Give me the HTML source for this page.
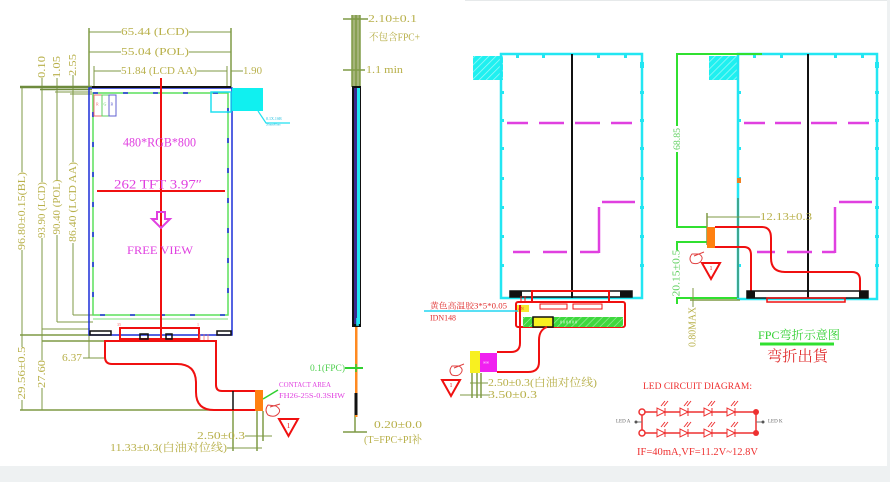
<!DOCTYPE html>
<html><head><meta charset="utf-8">
<style>
html,body{margin:0;padding:0;background:#fff;}
svg{display:block;}
text{font-family:"Liberation Serif","Noto Serif CJK SC",serif;}
</style></head><body>
<svg width="890" height="482" viewBox="0 0 890 482" xmlns="http://www.w3.org/2000/svg">
<defs>
<pattern id="hatch" width="5" height="5" patternUnits="userSpaceOnUse" patternTransform="rotate(45)">
<rect width="5" height="5" fill="#1ff0f0"/><line x1="0" y1="0" x2="0" y2="5" stroke="#9ff8f8" stroke-width="1.5"/>
</pattern>
<pattern id="ghatch" width="5" height="5" patternUnits="userSpaceOnUse" patternTransform="rotate(45)">
<rect width="5" height="5" fill="#3ed83e"/><line x1="0" y1="0" x2="0" y2="5" stroke="#a8f0a8" stroke-width="1.2"/>
</pattern>
</defs>
<rect width="890" height="482" fill="#fff"/>
<rect x="0" y="466" width="890" height="16" fill="#eef1f2"/>
<rect x="887" y="0" width="3" height="466" fill="#eef1f2"/>
<line x1="465" y1="0.5" x2="887" y2="0.5" stroke="#e6e9ea" stroke-width="1"/>

<!-- ================= LEFT DRAWING ================= -->
<g stroke="#7f9a45" stroke-width="1" fill="none">
  <line x1="89" y1="32" x2="121" y2="32"/><line x1="189" y1="32" x2="231" y2="32"/>
  <line x1="89" y1="52" x2="121" y2="52"/><line x1="189" y1="52" x2="231" y2="52"/>
  <line x1="94" y1="71" x2="121" y2="71"/><line x1="197" y1="71" x2="227" y2="71"/>
  <line x1="231" y1="71" x2="243" y2="71"/>
  <line x1="89" y1="28" x2="89" y2="88" stroke-width="1.5"/>
  <line x1="231" y1="28" x2="231" y2="88" stroke-width="1.5"/>
  <line x1="94" y1="66" x2="94" y2="88"/>
  <line x1="227" y1="66" x2="227" y2="88"/>
  <!-- left verticals -->
  <line x1="22" y1="87" x2="22" y2="172"/><line x1="22" y1="250" x2="22" y2="347"/><line x1="22" y1="400" x2="22" y2="410"/>
  <line x1="42" y1="78" x2="42" y2="182"/><line x1="42" y1="238" x2="42" y2="360"/><line x1="42" y1="388" x2="42" y2="410"/>
  <line x1="57" y1="78" x2="57" y2="180"/><line x1="57" y1="235" x2="57" y2="322"/>
  <line x1="73" y1="75" x2="73" y2="162"/><line x1="73" y1="243" x2="73" y2="315"/>
  <line x1="20" y1="87" x2="92" y2="87" stroke="#6e8b3d" stroke-width="2.5"/>
  <line x1="40" y1="89.5" x2="92" y2="89.5" stroke="#6e8b3d" stroke-width="1.5"/>
  <line x1="55" y1="92" x2="92" y2="92"/>
  <line x1="70" y1="94" x2="92" y2="94"/>
  <line x1="73" y1="315" x2="93" y2="315"/>
  <line x1="57" y1="322" x2="93" y2="322"/>
  <line x1="42" y1="329" x2="90" y2="329"/>
  <line x1="20" y1="335" x2="90" y2="335" stroke-width="1.5"/>
  <line x1="42" y1="341" x2="105" y2="341" stroke-width="1.5"/>
  <line x1="20" y1="410" x2="256" y2="410" stroke-width="1.5"/>
  <line x1="83" y1="358" x2="105" y2="358"/>
  <line x1="89" y1="335" x2="89" y2="358"/>
  <line x1="245" y1="436" x2="272" y2="436"/>
  <line x1="227" y1="448" x2="262" y2="448"/>
  <line x1="233" y1="410" x2="233" y2="451" stroke-width="1.5"/>
  <line x1="257" y1="411" x2="257" y2="451" stroke-width="1.5"/>
  <line x1="263" y1="411" x2="263" y2="441" stroke-width="1.5"/>
</g>
<g fill="#b8b04a" font-size="11" dominant-baseline="central" lengthAdjust="spacingAndGlyphs">
  <text x="121" y="32" textLength="68" lengthAdjust="spacingAndGlyphs">65.44 (LCD)</text>
  <text x="121" y="52" textLength="68" lengthAdjust="spacingAndGlyphs">55.04 (POL)</text>
  <text x="121" y="71" textLength="76" lengthAdjust="spacingAndGlyphs">51.84 (LCD AA)</text>
  <text x="243" y="71" textLength="19" lengthAdjust="spacingAndGlyphs">1.90</text>
  <text x="42" y="67" transform="rotate(-90 42 67)" text-anchor="middle" textLength="22" lengthAdjust="spacingAndGlyphs">0.10</text>
  <text x="57" y="67" transform="rotate(-90 57 67)" text-anchor="middle" textLength="22" lengthAdjust="spacingAndGlyphs">1.05</text>
  <text x="73" y="65" transform="rotate(-90 73 65)" text-anchor="middle" textLength="22" lengthAdjust="spacingAndGlyphs">2.55</text>
  <text x="22" y="211" transform="rotate(-90 22 211)" text-anchor="middle" textLength="78" lengthAdjust="spacingAndGlyphs">96.80±0.15(BL)</text>
  <text x="42" y="210" transform="rotate(-90 42 210)" text-anchor="middle" textLength="56" lengthAdjust="spacingAndGlyphs">93.90 (LCD)</text>
  <text x="57" y="207" transform="rotate(-90 57 207)" text-anchor="middle" textLength="55" lengthAdjust="spacingAndGlyphs">90.40 (POL)</text>
  <text x="73" y="202" transform="rotate(-90 73 202)" text-anchor="middle" textLength="80" lengthAdjust="spacingAndGlyphs">86.40 (LCD AA)</text>
  <text x="22" y="373" transform="rotate(-90 22 373)" text-anchor="middle" textLength="53" lengthAdjust="spacingAndGlyphs">29.56±0.5</text>
  <text x="42" y="374" transform="rotate(-90 42 374)" text-anchor="middle" textLength="28" lengthAdjust="spacingAndGlyphs">27.60</text>
  <text x="62" y="358" textLength="20" lengthAdjust="spacingAndGlyphs">6.37</text>
  <text x="197" y="436" textLength="48" lengthAdjust="spacingAndGlyphs">2.50±0.3</text>
  <text x="110" y="448" textLength="117" lengthAdjust="spacingAndGlyphs">11.33±0.3(白油对位线)</text>
</g>

<!-- LCD body -->
<rect x="89" y="88" width="143" height="247" fill="none" stroke="#1c2fd8" stroke-width="1.5"/>
<rect x="93" y="93" width="135" height="222" fill="none" stroke="#5ce05c" stroke-width="1.5"/>
<rect x="93" y="93" width="135" height="222" fill="none" stroke="#1c2fd8" stroke-width="1.6" stroke-dasharray="5 25"/>
<line x1="93" y1="319" x2="228" y2="319" stroke="#7ee07e" stroke-width="1"/>
<line x1="92" y1="87" x2="231" y2="87" stroke="#111" stroke-width="2"/>
<rect x="94" y="95" width="8" height="21" fill="none" stroke="#f07070" stroke-width="1"/>
<rect x="102" y="95" width="7" height="21" fill="none" stroke="#60d060" stroke-width="1"/>
<rect x="109" y="95" width="7" height="21" fill="none" stroke="#6060d0" stroke-width="1"/>
<g font-size="4" dominant-baseline="central"><text x="96" y="104" fill="#f07070">R</text><text x="103.5" y="104" fill="#60d060">G</text><text x="110.5" y="104" fill="#6060d0">B</text></g>
<rect x="211" y="92" width="20" height="20" fill="none" stroke="#20e0f0" stroke-width="1.5"/>
<rect x="232" y="88" width="31" height="23" fill="#10f0f0"/>
<polyline points="258,111 266,123 290,123" fill="none" stroke="#20e0f0" stroke-width="1.2"/>
<text x="266" y="120" font-size="4" fill="#20c0e0">0.1X.1SR</text>
<text x="266" y="125.5" font-size="3" fill="#20c0e0">20mmFilms</text>
<line x1="161" y1="78" x2="161" y2="340" stroke="#f01010" stroke-width="2"/>
<line x1="97" y1="191" x2="225" y2="191" stroke="#f01010" stroke-width="2"/>
<g fill="#e040e0" dominant-baseline="central">
  <text x="123" y="142" font-size="13" textLength="73" lengthAdjust="spacingAndGlyphs">480*RGB*800</text>
  <text x="114" y="184" font-size="13" textLength="88" lengthAdjust="spacingAndGlyphs">262 TFT  3.97″</text>
  <text x="127" y="250" font-size="12" textLength="66" lengthAdjust="spacingAndGlyphs">FREE  VIEW</text>
</g>
<polygon points="157,212 165,212 165,219 170,219 161,228 152,219 157,219" fill="none" stroke="#e040e0" stroke-width="2"/>

<!-- LCD bottom & FPC -->
<rect x="90" y="331" width="21" height="4" fill="none" stroke="#111" stroke-width="1.5"/>
<rect x="217" y="331" width="14" height="4" fill="none" stroke="#111" stroke-width="1.5"/>
<rect x="120" y="328" width="79" height="11" fill="none" stroke="#f01010" stroke-width="2"/>
<rect x="140" y="334" width="8" height="5" fill="none" stroke="#111" stroke-width="1.5"/>
<rect x="166" y="334" width="6" height="5" fill="none" stroke="#111" stroke-width="1.5"/>
<text x="117" y="326" font-size="4" fill="#f07070">35</text><text x="197" y="326" font-size="4" fill="#f07070">1</text>
<path d="M200,334 V340 M204,334 V340 M208,334 V340" stroke="#f07070" stroke-width="0.8"/>
<path d="M255,410 H214 Q196,410 196,392 V383 Q196,364 177,364 H112 Q105,364 105,357 V341 H216 V385 Q216,391 222,391 H255" fill="none" stroke="#f01010" stroke-width="2"/>
<line x1="233" y1="391" x2="233" y2="410" stroke="#111" stroke-width="1.5"/>
<rect x="255" y="390" width="8" height="21" fill="#ff8010"/>
<line x1="263" y1="399" x2="278" y2="390" stroke="#30d030" stroke-width="1.5"/>
<g fill="#e040e0" font-size="7" dominant-baseline="central">
  <text x="279" y="385" textLength="52" lengthAdjust="spacingAndGlyphs">CONTACT AREA</text>
  <text x="279" y="396" textLength="66" lengthAdjust="spacingAndGlyphs">FH26-25S-0.3SHW</text>
</g>
<g fill="none" stroke="#e04040" stroke-width="1">
  <path d="M268,405 Q264,410 268,415 Q274,418 278,414 Q282,410 276,406 Z M270,407 L280,404"/>
</g>
<polygon points="279,419 298,419 288.5,436" fill="none" stroke="#f01010" stroke-width="2"/>
<text x="288.5" y="426" font-size="7" fill="#f01010" text-anchor="middle" dominant-baseline="central">1</text>

<!-- ================= SIDE VIEW ================= -->
<rect x="352" y="15" width="8" height="72" fill="#a5b47a"/>
<g stroke="#7f9a45" stroke-width="1.5" fill="none">
  <line x1="352" y1="15" x2="352" y2="87"/><line x1="356" y1="15" x2="356" y2="87"/><line x1="360" y1="15" x2="360" y2="87"/>
  <line x1="343" y1="19" x2="368" y2="19"/>
  <line x1="343" y1="70" x2="365" y2="70"/>
  <line x1="355" y1="415" x2="355" y2="432"/>
  <line x1="343" y1="432" x2="367" y2="432"/>
</g>
<rect x="352" y="86" width="9" height="241" fill="#111"/>
<rect x="354" y="88" width="3" height="236" fill="#3a2a90"/>
<rect x="357" y="88" width="3" height="236" fill="#22e6f2"/>
<path d="M357,318 V325 H359" fill="none" stroke="#22e6f2" stroke-width="1.5"/>
<rect x="355" y="327" width="2.5" height="90" fill="#ff8a20"/>
<rect x="354.5" y="393" width="3" height="22" fill="#111"/>
<line x1="345" y1="368" x2="363" y2="368" stroke="#30d030" stroke-width="2"/>
<line x1="356" y1="364" x2="356" y2="372" stroke="#30d030" stroke-width="1.5"/>
<g font-size="11" dominant-baseline="central">
  <text x="368" y="19" fill="#b8b04a" textLength="49" lengthAdjust="spacingAndGlyphs">2.10±0.1</text>
  <text x="369" y="38" fill="#b8b04a" font-size="10" textLength="51" lengthAdjust="spacingAndGlyphs">不包含FPC+</text>
  <text x="366" y="70" fill="#b8b04a" textLength="37" lengthAdjust="spacingAndGlyphs">1.1 min</text>
  <text x="310" y="368" fill="#50d050" font-size="9" textLength="35" lengthAdjust="spacingAndGlyphs">0.1(FPC)</text>
  <text x="374" y="425" fill="#b8b04a" textLength="48" lengthAdjust="spacingAndGlyphs">0.20±0.0</text>
  <text x="364" y="440" fill="#b8b04a" textLength="58" lengthAdjust="spacingAndGlyphs">(T=FPC+PI补</text>
</g>

<!-- ================= RIGHT-MIDDLE DRAWING ================= -->
<rect x="473" y="56" width="30" height="24" fill="url(#hatch)"/>
<rect x="501" y="54" width="141" height="244" fill="none" stroke="#22e6f2" stroke-width="2.5"/>
<g fill="#22e6f2">
  <rect x="516" y="54" width="3" height="4"/><rect x="542" y="54" width="3" height="4"/><rect x="597" y="54" width="3" height="4"/><rect x="624" y="54" width="3" height="4"/>
  <rect x="500" y="91" width="4" height="3"/><rect x="500" y="119" width="4" height="3"/><rect x="500" y="147" width="4" height="3"/><rect x="500" y="177" width="4" height="3"/><rect x="500" y="206" width="4" height="3"/><rect x="500" y="235" width="4" height="3"/><rect x="500" y="264" width="4" height="3"/>
  <rect x="640" y="62" width="4" height="6"/><rect x="640" y="91" width="4" height="3"/><rect x="640" y="119" width="4" height="3"/><rect x="640" y="147" width="4" height="3"/><rect x="640" y="177" width="4" height="3"/><rect x="640" y="206" width="4" height="3"/><rect x="640" y="235" width="4" height="3"/><rect x="640" y="264" width="4" height="3"/>
</g>
<line x1="572" y1="54" x2="572" y2="298" stroke="#111" stroke-width="2"/>
<g stroke="#e040e0" stroke-width="2.5">
  <line x1="507" y1="123" x2="528" y2="123"/><line x1="539" y1="123" x2="564" y2="123"/><line x1="575" y1="123" x2="600" y2="123"/><line x1="611" y1="123" x2="632" y2="123"/>
  <line x1="602" y1="202" x2="635" y2="202"/>
  <line x1="599" y1="207" x2="599" y2="253"/>
  <line x1="513" y1="252" x2="530" y2="252"/><line x1="543" y1="252" x2="567" y2="252"/><line x1="580" y1="252" x2="599" y2="252"/>
</g>
<rect x="510" y="291" width="122" height="6" fill="none" stroke="#111" stroke-width="1.5"/>
<rect x="510" y="291" width="12" height="6" fill="#111"/><rect x="620" y="291" width="12" height="6" fill="#111"/>
<rect x="532" y="291" width="77" height="11" fill="none" stroke="#f01010" stroke-width="2"/>
<path d="M521,296 V302 M525,296 V302" stroke="#f01010" stroke-width="1"/>
<rect x="516" y="302" width="109" height="25" rx="2" fill="none" stroke="#f01010" stroke-width="2"/>
<rect x="540" y="304" width="27" height="5" fill="#fff" stroke="#f01010" stroke-width="1"/>
<rect x="573" y="304" width="29" height="5" fill="#fff" stroke="#f01010" stroke-width="1"/>
<rect x="523" y="317" width="100" height="10" fill="url(#ghatch)"/>
<text x="560" y="322" font-size="4" fill="#fff" dominant-baseline="central">0 0 0 0 0 0</text>
<rect x="533" y="317" width="20" height="10" fill="#f8f020" stroke="#111" stroke-width="1.5"/>
<rect x="517" y="305" width="12" height="7" fill="#f8e830"/>
<text x="518" y="308.5" font-size="4" fill="#e03030" dominant-baseline="central">AN</text>
<line x1="424" y1="311" x2="518" y2="311" stroke="#22d6f2" stroke-width="1.5"/>
<g fill="#e03030" dominant-baseline="central">
  <text x="430" y="306" font-size="8" textLength="77" lengthAdjust="spacingAndGlyphs">黄色高温胶3*5*0.05</text>
  <text x="430" y="318" font-size="8" textLength="26" lengthAdjust="spacingAndGlyphs">IDN148</text>
</g>
<path d="M520,305 V343 Q520,352 511,352 H497" fill="none" stroke="#f01010" stroke-width="2"/>
<path d="M547,327 Q539,330 539,340 V362 Q539,372 528,372 H497" fill="none" stroke="#f01010" stroke-width="2"/>
<rect x="480" y="353" width="17" height="19" fill="#f020f0"/>
<text x="483" y="362.5" font-size="3" fill="#fff" dominant-baseline="central">0000</text>
<rect x="470" y="351" width="10" height="22" fill="#f8f020"/>
<g stroke="#7f9a45" stroke-width="1.5">
  <line x1="472" y1="373" x2="472" y2="398"/><line x1="477" y1="373" x2="477" y2="398"/><line x1="481" y1="373" x2="481" y2="398"/>
  <line x1="470" y1="383" x2="488" y2="383" stroke-width="1"/>
  <line x1="460" y1="395" x2="490" y2="395" stroke-width="1"/>
</g>
<g fill="#b8b04a" font-size="11" dominant-baseline="central">
  <text x="488" y="383" textLength="109" lengthAdjust="spacingAndGlyphs">2.50±0.3(白油对位线)</text>
  <text x="488" y="395" textLength="49" lengthAdjust="spacingAndGlyphs">3.50±0.3</text>
</g>
<polygon points="442,380 460,380 451,396" fill="none" stroke="#f01010" stroke-width="2"/>
<text x="451" y="386" font-size="6" fill="#f01010" text-anchor="middle" dominant-baseline="central">1</text>
<path d="M452,366 Q448,371 452,375 Q458,377 461,373 Q464,369 459,366 Z M454,368 L464,364" fill="none" stroke="#e04040" stroke-width="1"/>

<!-- ================= RIGHT DRAWING ================= -->
<rect x="709" y="56" width="30" height="24" fill="url(#hatch)"/>
<rect x="738" y="54" width="139" height="245" fill="none" stroke="#22e6f2" stroke-width="2.5"/>
<g fill="#22e6f2">
  <rect x="753" y="54" width="3" height="4"/><rect x="780" y="54" width="3" height="4"/><rect x="834" y="54" width="3" height="4"/><rect x="861" y="54" width="3" height="4"/>
  <rect x="737" y="91" width="4" height="3"/><rect x="737" y="119" width="4" height="3"/><rect x="737" y="147" width="4" height="3"/><rect x="737" y="177" width="4" height="3"/><rect x="737" y="264" width="4" height="3"/>
  <rect x="875" y="62" width="4" height="6"/><rect x="875" y="91" width="4" height="3"/><rect x="875" y="119" width="4" height="3"/><rect x="875" y="147" width="4" height="3"/><rect x="875" y="177" width="4" height="3"/><rect x="875" y="206" width="4" height="3"/><rect x="875" y="235" width="4" height="3"/><rect x="875" y="264" width="4" height="3"/>
</g>
<rect x="737" y="178" width="4" height="5" fill="#f08020"/>
<line x1="808" y1="54" x2="808" y2="298" stroke="#111" stroke-width="2"/>
<g stroke="#e040e0" stroke-width="2.5">
  <line x1="744" y1="123" x2="765" y2="123"/><line x1="775" y1="123" x2="801" y2="123"/><line x1="811" y1="123" x2="837" y2="123"/><line x1="848" y1="123" x2="869" y2="123"/>
  <line x1="839" y1="202" x2="872" y2="202"/>
  <line x1="835" y1="207" x2="835" y2="253"/>
  <line x1="757" y1="252" x2="775" y2="252"/><line x1="787" y1="252" x2="812" y2="252"/><line x1="822" y1="252" x2="835" y2="252"/>
</g>
<g stroke="#30e030" stroke-width="2" fill="none">
  <polyline points="762,54 677,54 677,126"/>
  <polyline points="677,152 677,227 707,227"/>
  <polyline points="707,242 677,242 677,250"/>
  <polyline points="677,297 677,304"/>
  <line x1="677" y1="298" x2="737" y2="298"/>
</g>
<line x1="738" y1="198" x2="738" y2="298" stroke="#556b2f" stroke-width="1"/>
<g stroke="#7f9a45" stroke-width="1.5">
  <line x1="707" y1="213" x2="707" y2="245"/>
  <line x1="707" y1="217" x2="760" y2="217" stroke-width="1"/>
  <line x1="690" y1="300" x2="740" y2="300"/>
  <line x1="693" y1="288" x2="693" y2="307" stroke-width="1"/>
</g>
<rect x="707" y="227" width="8" height="21" fill="#ff8010"/>
<path d="M715,227 H762 Q771,227 771,238 V258 Q771,272 785,272 H852 Q860,272 860,280 V292" fill="none" stroke="#f01010" stroke-width="2"/>
<path d="M715,247 H744 Q751,247 751,255 V297" fill="none" stroke="#f01010" stroke-width="2"/>
<rect x="747" y="291" width="121" height="7" fill="none" stroke="#111" stroke-width="1.5"/>
<rect x="747" y="291" width="8" height="7" fill="#111"/><rect x="859" y="291" width="9" height="7" fill="#111"/>
<rect x="767" y="298" width="78" height="4" fill="none" stroke="#f01010" stroke-width="1.5"/>
<g font-size="11" dominant-baseline="central">
  <text x="677" y="139" transform="rotate(-90 677 139)" text-anchor="middle" fill="#60d060" font-size="9" textLength="22" lengthAdjust="spacingAndGlyphs">68.85</text>
  <text x="677" y="273" transform="rotate(-90 677 273)" text-anchor="middle" fill="#60d060" font-size="10" textLength="47" lengthAdjust="spacingAndGlyphs">20.15±0.5</text>
  <text x="693" y="327" transform="rotate(-90 693 327)" text-anchor="middle" fill="#b8b04a" font-size="10" textLength="40" lengthAdjust="spacingAndGlyphs">0.80MAX</text>
  <text x="760" y="217" fill="#b8b04a" textLength="52" lengthAdjust="spacingAndGlyphs">12.13±0.3</text>
</g>
<polygon points="702,263 720,263 711,279" fill="none" stroke="#f01010" stroke-width="2"/>
<text x="711" y="269" font-size="6" fill="#f01010" text-anchor="middle" dominant-baseline="central">1</text>
<path d="M692,254 Q688,259 692,263 Q698,265 701,261 Q704,257 699,254 Z M694,256 L704,252" fill="none" stroke="#e04040" stroke-width="1"/>
<text x="758" y="335" font-size="12" fill="#30d030" dominant-baseline="central" textLength="82" lengthAdjust="spacingAndGlyphs">FPC弯折示意图</text>
<line x1="760" y1="344" x2="834" y2="344" stroke="#30e030" stroke-width="3"/>
<text x="767" y="357" font-size="15" fill="#e03030" dominant-baseline="central" textLength="61" lengthAdjust="spacingAndGlyphs">弯折出貨</text>

<!-- LED circuit -->
<text x="643" y="386" font-size="9" fill="#ee3030" dominant-baseline="central" textLength="109" lengthAdjust="spacingAndGlyphs">LED CIRCUIT DIAGRAM:</text>
<g stroke="#ee3030" stroke-width="1.5" fill="none">
  <line x1="642" y1="412" x2="756" y2="412"/>
  <line x1="642" y1="433" x2="756" y2="433"/>
  <line x1="642" y1="412" x2="642" y2="433"/>
  <line x1="756" y1="412" x2="756" y2="433"/>
  <line x1="635" y1="422" x2="642" y2="422" stroke="#777" stroke-width="1"/>
  <line x1="756" y1="422" x2="764" y2="422" stroke="#777" stroke-width="1"/>
</g>
<circle cx="642" cy="412" r="3" fill="#fff" stroke="#ee3030" stroke-width="1.5"/>
<circle cx="642" cy="433" r="3" fill="#fff" stroke="#ee3030" stroke-width="1.5"/>
<circle cx="756" cy="412" r="3" fill="#ee3030"/>
<circle cx="756" cy="433" r="3" fill="#ee3030"/>
<circle cx="636" cy="422" r="1.5" fill="#555"/>
<circle cx="763" cy="422" r="1.5" fill="#555"/>
<text x="616" y="422" font-size="5" fill="#666" dominant-baseline="central">LED A</text>
<text x="768" y="422" font-size="5" fill="#666" dominant-baseline="central">LED K</text>
<g stroke="#ee3030" stroke-width="1" fill="#fff">
  <g id="d1"><polygon points="657,408 657,416 665,412"/><line x1="665" y1="408" x2="665" y2="416"/><path d="M661,406 L665,401 M664,406 L668,401" fill="none"/></g>
  <polygon points="680,408 680,416 688,412"/><line x1="688" y1="408" x2="688" y2="416"/><path d="M684,406 L688,401 M687,406 L691,401" fill="none"/>
  <polygon points="704,408 704,416 712,412"/><line x1="712" y1="408" x2="712" y2="416"/><path d="M708,406 L712,401 M711,406 L715,401" fill="none"/>
  <polygon points="727,408 727,416 735,412"/><line x1="735" y1="408" x2="735" y2="416"/><path d="M731,406 L735,401 M734,406 L738,401" fill="none"/>
  <polygon points="657,429 657,437 665,433"/><line x1="665" y1="429" x2="665" y2="437"/><path d="M661,427 L665,422 M664,427 L668,422" fill="none"/>
  <polygon points="680,429 680,437 688,433"/><line x1="688" y1="429" x2="688" y2="437"/><path d="M684,427 L688,422 M687,427 L691,422" fill="none"/>
  <polygon points="704,429 704,437 712,433"/><line x1="712" y1="429" x2="712" y2="437"/><path d="M708,427 L712,422 M711,427 L715,422" fill="none"/>
  <polygon points="727,429 727,437 735,433"/><line x1="735" y1="429" x2="735" y2="437"/><path d="M731,427 L735,422 M734,427 L738,422" fill="none"/>
</g>
<text x="637" y="452" font-size="11" fill="#ee3030" dominant-baseline="central" textLength="121" lengthAdjust="spacingAndGlyphs">IF=40mA,VF=11.2V~12.8V</text>
</svg>
</body></html>
